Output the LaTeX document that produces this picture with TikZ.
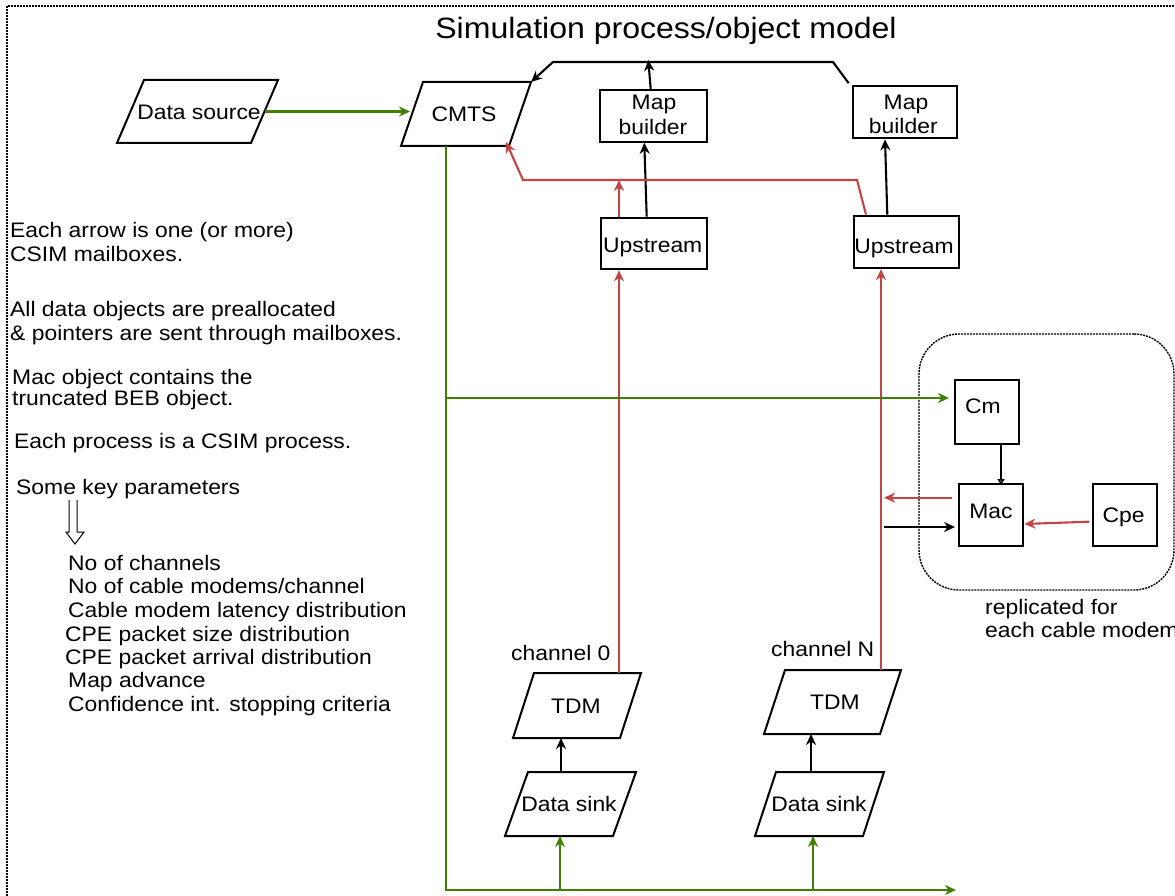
\documentclass[tikz,border=0pt]{standalone}
\usepackage{fontspec}
\setmainfont{Liberation Sans}[FakeStretch=1.09]
\usetikzlibrary{arrows.meta,calc}
\definecolor{grn}{RGB}{64,128,0}
\definecolor{rd}{RGB}{196,68,68}
\newcommand{\mypgram}[6]{%
  \coordinate (#1-bl) at (#2,#3);
  \coordinate (#1-br) at ({#2+#5},#3);
  \coordinate (#1-tr) at ({#2+#5+#6},#4);
  \coordinate (#1-tl) at ({#2+#6},#4);
  \draw[pg] (#1-bl) -- (#1-br) -- (#1-tr) -- (#1-tl) -- cycle;}
\begin{document}
\begin{tikzpicture}[x=1pt,y=-1pt,
  box/.style={draw,line width=2pt,inner sep=0pt},
  pg/.style={draw,line width=2pt,line join=miter},
  txt/.style={anchor=base,inner sep=0pt,font=\fontsize{21}{25}\selectfont},
  ltxt/.style={anchor=base west,inner sep=0pt,font=\fontsize{21}{25}\selectfont},
  arr/.style={line width=2.1pt,-{Stealth[length=11pt,width=10pt,inset=3.5pt]}},
  garr/.style={arr,draw=grn},
  rarr/.style={arr,draw=rd},
  dotframe/.style={dash pattern=on 2pt off 1pt}]
\useasboundingbox (0,0) rectangle (1175,896);
\clip (0,0) rectangle (1175,896);
\draw[line width=2pt,dotframe] (7,6) rectangle (1210,930);

\node[anchor=base,inner sep=0pt,font=\fontsize{29.4}{34}\selectfont] (title) at (666,39) {Simulation process/object model};

% parallelograms
\mypgram{ds}{117}{143}{80}{134}{27}
\mypgram{cm}{401}{146}{82}{108}{22}
\mypgram{tdA}{513}{738}{673}{107}{21}
\mypgram{tdB}{764}{734}{670}{116}{21}
\mypgram{skA}{505}{836}{772}{108}{23}
\mypgram{skB}{755}{836}{772}{108}{21}

% rectangles
\node[box,minimum width=106.7pt,minimum height=51.7pt] (mbA) at (653.3,115.9) {};
\node[box,minimum width=104.3pt,minimum height=52.6pt] (mbB) at (904.8,112) {};
\node[box,minimum width=106.6pt,minimum height=51.6pt] (upA) at (654,243.5) {};
\node[box,minimum width=105pt,minimum height=52.5pt] (upB) at (906.5,241.8) {};
\node[draw,line width=1.4pt,dotframe,rounded corners=40pt,minimum width=255pt,minimum height=256pt] (rep) at (1046.5,462) {};
\node[box,minimum width=64pt,minimum height=64pt] (cmod) at (987,412) {};
\node[box,minimum width=64.3pt,minimum height=62pt] (mac) at (990.8,515) {};
\node[box,minimum width=64.3pt,minimum height=62pt] (cpe) at (1124.8,515) {};

% texts in shapes
\node[txt] (dsT) at (199,120) {Data source};
\node[txt] (cmT) at (464,121.7) {CMTS};
\node[txt] (mbA1) at (654,110) {Map};
\node[txt] (mbA2) at (653,135) {builder};
\node[txt] (mbB1) at (906,110) {Map};
\node[txt] (mbB2) at (903.3,133.3) {builder};
\node[txt] (upAT) at (652.7,252.7) {Upstream};
\node[txt] (upBT) at (904,253) {Upstream};
\node[txt] (cmodT) at (983,413) {Cm};
\node[txt] (macT) at (991,518.3) {Mac};
\node[txt] (cpeT) at (1123.5,522) {Cpe};
\node[txt] (tdAT) at (576,713) {TDM};
\node[txt] (tdBT) at (835,709) {TDM};
\node[txt] (skAT) at (569,811) {Data sink};
\node[txt] (skBT) at (819,811) {Data sink};
\node[ltxt] (ch0) at (511,660) {channel 0};
\node[ltxt] (chN) at (771,656) {channel N};
\node[ltxt] (rep1) at (985,614) {replicated for};
\node[ltxt] (rep2) at (985,637) {each cable modem};

% left notes
\node[ltxt] (n1) at (10,237) {Each arrow is one (or more)};
\node[ltxt] (n2) at (10,261) {CSIM mailboxes.};
\node[ltxt] (n3) at (10,316) {All data objects are preallocated};
\node[ltxt] (n4) at (10,340) {\& pointers are sent through mailboxes.};
\node[ltxt] (n5) at (12,384) {Mac object contains the};
\node[ltxt] (n6) at (12,405) {truncated BEB object.};
\node[ltxt] (n7) at (14,448) {Each process is a CSIM process.};
\node[ltxt] (n8) at (16,494) {Some key parameters};
\node[ltxt] (p1) at (68,570) {No of channels};
\node[ltxt] (p2) at (68,593) {No of cable modems/channel};
\node[ltxt] (p3) at (68,617) {Cable modem latency distribution};
\node[ltxt] (p4) at (65,641) {CPE packet size distribution};
\node[ltxt] (p5) at (65,664) {CPE packet arrival distribution};
\node[ltxt] (p6) at (68,687) {Map advance};
\node[ltxt] (p7) at (68,711) {Confidence int. stopping criteria};
\draw[line width=1pt] (69,500) -- (69,532) -- (66,532) -- (75,544) -- (84,532) -- (77,532) -- (77,500);

% data source -> CMTS
\coordinate (dsR) at ($(ds-br)!0.5!(ds-tr)$);
\coordinate (cmL) at ($(cm-bl)!0.5!(cm-tl)$);
\draw[garr] (dsR) -- ([xshift=-2pt]dsR -| cmL);

% map builders -> CMTS loop
\coordinate (lpR) at (833,62);
\coordinate (lpL) at (553,62);
\draw[arr] ([shift={(-3,-1.5)}]mbB.north west) -- (lpR) -- (lpL) -- (cm-tr);
\coordinate (lpA) at (648.3,60);
\draw[arr] ([xshift=-2.6pt]mbA.north) -- (lpA);

% upstream -> map builder
\draw[arr] ([xshift=-7.3pt]upA.north) -- ([xshift=-9pt]mbA.south);
\draw[arr] ([xshift=-19.2pt]upB.north) -- ([xshift=-19.8pt]mbB.south);

% red return path to CMTS
\coordinate (rR) at (857,180);
\coordinate (rL) at (523,180);
\draw[rarr] ([xshift=13pt]upB.north west) -- (rR) -- (rL) -- ($(cm-br)+(-3,-4)$);
\coordinate (rAs) at ([xshift=-35pt]upA.north);
\draw[rarr] (rAs) -- (rAs |- rL);

% TDM -> upstream
\coordinate (c0) at (619,673);
\coordinate (cN) at (881,670);
\draw[rarr] (c0) -- (c0 |- upA.south);
\draw[rarr] (cN) -- (cN |- upB.south);

% green distribution
\coordinate (gTop) at ($(cm-bl)+(45,0)$);
\coordinate (gBL) at (446,890);
\coordinate (gEnd) at (956,890);
\draw[garr] (gTop) -- (gBL) -- (gEnd);
\coordinate (gJ) at (446,398);
\coordinate (cmIn) at ([xshift=-5pt]cmod.west);
\draw[garr] (gJ) -- (gJ -| cmIn);
\coordinate (sA) at ($(skA-bl)+(55,0)$);
\coordinate (sB) at ($(skB-bl)+(58,0)$);
\draw[garr] (sA |- gBL) -- (sA);
\draw[garr] (sB |- gBL) -- (sB);

% data sink -> TDM
\coordinate (kA) at (561,772);
\coordinate (kB) at (811,772);
\draw[arr] (kA) -- (kA |- tdA-bl);
\draw[arr] (kB) -- (kB |- tdB-bl);

% Mac / Cm / Cpe
\coordinate (cNr) at ([xshift=3pt]cN);
\coordinate (mo) at ([shift={(-5.6,-17.3)}]mac.west);
\draw[rarr] (mo) -- (cNr |- mo);
\coordinate (mi) at ([shift={(-2.6,12)}]mac.west);
\draw[arr] (cNr |- mi) -- (mi);
\draw[rarr] ([shift={(-2.6,6.7)}]cpe.west) -- ([shift={(0.4,9)}]mac.east);
\draw[line width=1.8pt,-{Triangle[open,length=6pt,width=7pt]}] ([xshift=14pt]cmod.south) -- ([shift={(10.2,2)}]mac.north);
\end{tikzpicture}
\end{document}
